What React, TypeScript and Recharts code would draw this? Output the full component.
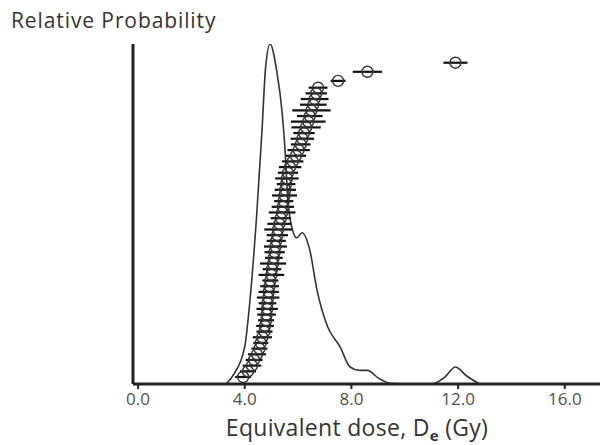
import React from 'react';
import { ComposedChart, Line, Scatter, XAxis, YAxis, ErrorBar } from 'recharts';

// Probability density curve (dose in Gy, relative probability)
const densityDose = [3.3, 3.6, 4.0, 4.2, 4.45, 4.65, 4.78, 4.95, 5.2, 5.4, 5.5, 5.62, 5.8, 5.95, 6.15, 6.45, 6.7, 7.1, 7.57, 7.95, 8.3, 8.6, 9.0, 9.45, 10.0, 11.0, 11.5, 11.9, 12.3, 12.8];
const densityProb = [0, 0.03, 0.11, 0.25, 0.5, 0.75, 0.93, 1.0, 0.92, 0.8, 0.7, 0.54, 0.45, 0.43, 0.445, 0.39, 0.28, 0.17, 0.11, 0.05, 0.04, 0.04, 0.018, 0.002, 0, 0, 0.02, 0.05, 0.025, 0];

// Individual equivalent dose values, ranked (bottom to top)
const deValues = [3.94, 4.12, 4.27, 4.35, 4.46, 4.55, 4.6, 4.66, 4.74, 4.76, 4.8, 4.82, 4.84, 4.85, 4.88, 4.9, 4.93, 4.96, 5.0, 5.02, 5.06, 5.09, 5.12, 5.15, 5.18, 5.22, 5.25, 5.3, 5.35, 5.4, 5.43, 5.46, 5.49, 5.52, 5.55, 5.58, 5.62, 5.7, 5.8, 5.92, 6.02, 6.1, 6.16, 6.22, 6.3, 6.38, 6.44, 6.5, 6.57, 6.62, 6.68, 6.75, 7.5, 8.6, 11.9];
const deErrors = [0.3, 0.3, 0.35, 0.32, 0.34, 0.3, 0.28, 0.36, 0.3, 0.33, 0.3, 0.35, 0.4, 0.33, 0.42, 0.38, 0.35, 0.3, 0.48, 0.35, 0.49, 0.33, 0.38, 0.43, 0.36, 0.4, 0.52, 0.45, 0.38, 0.5, 0.42, 0.36, 0.47, 0.4, 0.35, 0.44, 0.38, 0.42, 0.4, 0.38, 0.42, 0.37, 0.44, 0.4, 0.55, 0.65, 0.48, 0.72, 0.5, 0.52, 0.4, 0.35, 0.28, 0.55, 0.45];
const deRanks = [1, 2, 3, 4, 5, 6, 7, 8, 9, 10, 11, 12, 13, 14, 15, 16, 17, 18, 19, 20, 21, 22, 23, 24, 25, 26, 27, 28, 29, 30, 31, 32, 33, 34, 35, 36, 37, 38, 39, 40, 41, 42, 43, 44, 45, 46, 47, 48, 49, 50, 51, 52, 53.2, 54.8, 56.4];

const xTicks = [0, 4, 8, 12, 16];

const densityData = densityDose.map((x, i) => ({ x, p: densityProb[i] }));
const deData = deValues.map((x, i) => ({ x, r: deRanks[i], err: deErrors[i] }));

const FONT = '"Open Sans", "DejaVu Sans", sans-serif';

const OpenCircle = (props: any) => {
  const { cx, cy } = props;
  if (cx == null || cy == null) return null;
  return <circle cx={cx} cy={cy} r={5.5} fill="none" stroke="#333" strokeWidth={1.4} />;
};

export default function App() {
  return (
    <div style={{ position: 'absolute', left: 0, top: 0, width: 600, height: 445, background: '#fff' }}>
      <div
        style={{
          position: 'absolute',
          left: 11,
          top: 6,
          fontFamily: FONT,
          fontSize: 21,
          letterSpacing: 0.9,
          lineHeight: '28px',
          color: '#333',
          whiteSpace: 'nowrap',
        }}
      >
        Relative Probability
      </div>
      <ComposedChart width={600} height={445} margin={{ top: 44, right: 0, bottom: 0, left: 113 }}>
        <XAxis
          dataKey="x"
          type="number"
          domain={[-0.19, 17.32]}
          allowDataOverflow
          ticks={xTicks}
          tickFormatter={(v: number) => v.toFixed(1)}
          height={61}
          axisLine={{ stroke: '#222', strokeWidth: 3 }}
          tickLine={{ stroke: '#222', strokeWidth: 2 }}
          tickSize={5}
          tickMargin={4}
          tick={{ fill: '#505050', fontSize: 17, fontFamily: FONT }}
          label={{
            content: () => (
              <text x={357} y={436} textAnchor="middle" fill="#333" fontSize={23} letterSpacing={0.3} fontFamily={FONT}>
                Equivalent dose, D
                <tspan dy={5} fontSize={15} fontWeight="bold">e</tspan>
                <tspan dy={-5}> (Gy)</tspan>
              </text>
            ),
          }}
        />
        <YAxis
          yAxisId="p"
          type="number"
          domain={[0, 1]}
          allowDataOverflow
          width={20}
          tick={false}
          tickLine={false}
          axisLine={{ stroke: '#222', strokeWidth: 3 }}
        />
        <YAxis yAxisId="r" type="number" domain={[-0.235, 59.7]} allowDataOverflow hide />
        <Line
          yAxisId="p"
          data={densityData}
          dataKey="p"
          type="monotone"
          stroke="#333"
          strokeWidth={1.6}
          dot={false}
          activeDot={false}
          isAnimationActive={false}
        />
        <Scatter
          yAxisId="r"
          data={deData}
          dataKey="r"
          shape={OpenCircle}
          isAnimationActive={false}
        >
          <ErrorBar dataKey="err" direction="x" width={0} stroke="#111" strokeWidth={2.2} isAnimationActive={false} />
        </Scatter>
      </ComposedChart>
    </div>
  );
}
